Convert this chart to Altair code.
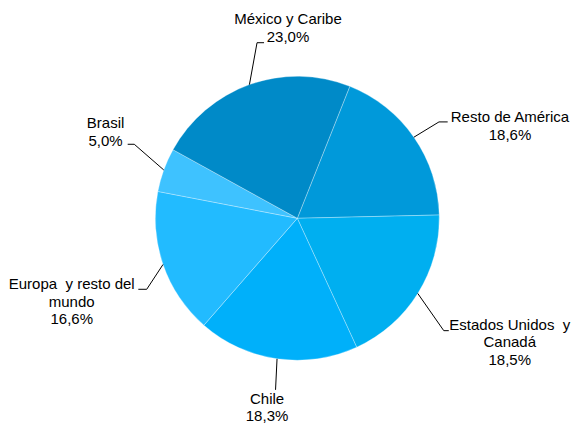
import math
import altair as alt
import pandas as pd

# ---- data (clockwise from the first slice) ----
categories = ["Resto de América", "Estados Unidos y Canadá", "Chile",
              "Europa y resto del mundo", "Brasil", "México y Caribe"]
shares = [18.6, 18.5, 18.3, 16.6, 5.0, 23.0]
label_text = ["Resto de América", "Estados Unidos\u00a0 y\nCanadá", "Chile",
              "Europa\u00a0 y resto del\nmundo", "Brasil", "México y Caribe"]
colors = ["#0099DA", "#00AFF0", "#00B0FA", "#22BBFF", "#3EC2FF", "#008AC8"]

# ---- label layout (offsets from the computed slice edge point) ----
elbow_dx = [25.1, 26.0, -1.5, -16.3, -29.5, 7.6]
elbow_dy = [-15.3, 37.2, 31.0, 24.8, -25.7, -41.9]
tail_dx = [8.7, 5.0, 0.0, -8.4, -6.6, 7.0]
text_dx = [62.3, 61.0, -8.5, -66.6, -22.1, 24.0]
text_dy = [0.3, -0.7, 14.0, 0.0, -16.0, -18.7]

CX, CY, R = 289.3, 210.3, 142
START = math.radians(21.7)
TWO_PI = 2 * math.pi

df = pd.DataFrame({
    "order": list(range(len(categories))),
    "category": categories,
    "share": shares,
    "label": [t + "\n" + f"{v:.1f}".replace(".", ",") + "%" for t, v in zip(label_text, shares)],
    "edx": elbow_dx, "edy": elbow_dy, "tdx": tail_dx,
    "ldx": text_dx, "ldy": text_dy,
})

base = alt.Chart(df)

pie = base.mark_arc(radius=R, stroke="white", strokeWidth=0.6, strokeOpacity=0.5).encode(
    theta=alt.Theta("share:Q", stack=True, scale=alt.Scale(range=[START, START + TWO_PI])),
    color=alt.Color("category:N", scale=alt.Scale(domain=categories, range=colors), legend=None),
    order=alt.Order("order:Q"),
    x=alt.value(CX),
    y=alt.value(CY),
)

geo = base.transform_joinaggregate(
    total="sum(share)"
).transform_window(
    cum="sum(share)", sort=[alt.SortField("order")], frame=[None, 0]
).transform_calculate(
    mid=f"{START} + {TWO_PI} * (datum.cum - datum.share / 2) / datum.total"
).transform_calculate(
    ex=f"{CX} + {R} * sin(datum.mid)",
    ey=f"{CY} - {R} * cos(datum.mid)",
).transform_calculate(
    bx="datum.ex + datum.edx",
    by="datum.ey + datum.edy",
).transform_calculate(
    tx="datum.bx + datum.tdx",
    lx="datum.bx + datum.tdx + datum.ldx",
    ly="datum.by + datum.ldy",
)

lead1 = geo.mark_rule(color="#000000", strokeWidth=1).encode(
    x=alt.X("ex:Q", scale=None, axis=None),
    y=alt.Y("ey:Q", scale=None, axis=None),
    x2="bx:Q", y2="by:Q",
)
lead2 = geo.mark_rule(color="#000000", strokeWidth=1).encode(
    x=alt.X("bx:Q", scale=None, axis=None),
    y=alt.Y("by:Q", scale=None, axis=None),
    x2="tx:Q", y2="by:Q",
)
labels = geo.mark_text(
    font="Liberation Sans", fontSize=15, align="center", baseline="alphabetic",
    lineBreak="\n", lineHeight=17.5, color="#000000",
).encode(
    x=alt.X("lx:Q", scale=None, axis=None),
    y=alt.Y("ly:Q", scale=None, axis=None),
    text="label:N",
)

chart = alt.layer(pie, lead1, lead2, labels).properties(
    width=565, height=416, padding=0,
    autosize=alt.AutoSizeParams(type="none"),
).configure_view(stroke=None)

chart.save("out.html", embed_options={"renderer": "svg", "actions": False})
